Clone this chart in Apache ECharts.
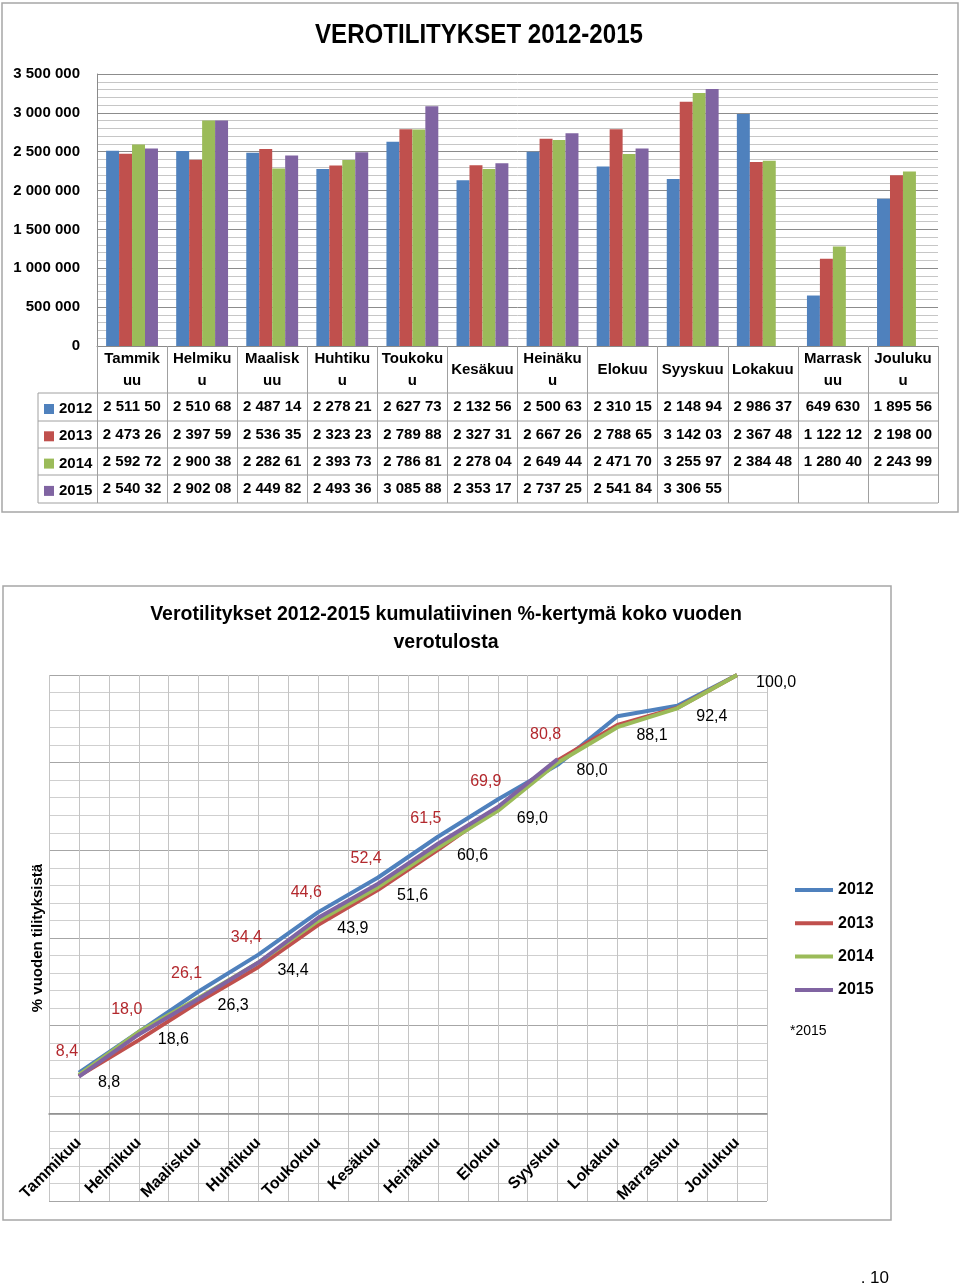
<!DOCTYPE html>
<html><head><meta charset="utf-8">
<script src="https://cdn.jsdelivr.net/npm/echarts@6/dist/echarts.min.js"></script>
<style>
html,body{margin:0;padding:0;background:#fff;width:960px;height:1288px;overflow:hidden;}
#topChart{position:absolute;left:0;top:0;width:960px;height:530px;}
#botChart{position:absolute;left:0;top:530px;width:960px;height:758px;}
</style>
</head><body>
<div id="topChart"></div><div id="botChart"></div>
<script>
// ---------- DATA ----------
const months = ['Tammikuu','Helmikuu','Maaliskuu','Huhtikuu','Toukokuu','Kesäkuu','Heinäkuu','Elokuu','Syyskuu','Lokakuu','Marraskuu','Joulukuu'];
const tableHeaders = ['Tammik\nuu','Helmiku\nu','Maalisk\nuu','Huhtiku\nu','Toukoku\nu','Kesäkuu','Heinäku\nu','Elokuu','Syyskuu','Lokakuu','Marrask\nuu','Jouluku\nu'];
const years = ['2012','2013','2014','2015'];
const v2012 = [2511500, 2510680, 2487140, 2278210, 2627730, 2132560, 2500630, 2310150, 2148940, 2986370, 649630, 1895560];
const v2013 = [2473260, 2397590, 2536350, 2323230, 2789880, 2327310, 2667260, 2788650, 3142030, 2367480, 1122120, 2198000];
const v2014 = [2592720, 2900380, 2282610, 2393730, 2786810, 2278040, 2649440, 2471700, 3255970, 2384480, 1280400, 2243990];
const v2015 = [2540320, 2902080, 2449820, 2493360, 3085880, 2353170, 2737250, 2541840, 3306550];
const cum2012 = [9.3, 18.6, 27.8, 36.2, 45.9, 53.8, 63.1, 71.6, 79.5, 90.6, 93.0, 100.0];
const cum2013 = [8.5, 16.7, 25.4, 33.4, 43.0, 51.0, 60.1, 69.7, 80.5, 88.6, 92.5, 100.0];
const cum2014 = [8.8, 18.6, 26.3, 34.4, 43.9, 51.6, 60.6, 69.0, 80.0, 88.1, 92.4, 100.0];
const cum2015 = [8.4, 18.0, 26.1, 34.4, 44.6, 52.4, 61.5, 69.9, 80.8];
const topTitle = 'VEROTILITYKSET 2012-2015';
const botTitle1 = 'Verotilitykset 2012-2015 kumulatiivinen %-kertymä koko vuoden';
const botTitle2 = 'verotulosta';
const yName = '% vuoden tilityksistä';
const note = '*2015';
const pageNo = '. 10';

// ---------- STYLE ----------
const FONT = '"Liberation Sans", Arial, sans-serif';
const colors = ['#4F81BD', '#C0504D', '#9BBB59', '#8064A2'];
const barValues = [v2012, v2013, v2014, v2015];
const cumValues = [cum2012, cum2013, cum2014, cum2015];
const fmt = v => String(v).replace(/\B(?=(\d{3})+(?!\d))/g, ' ');
const cellText = v => v == null ? '' : fmt(v).slice(0, 8);
const pct = p => Number(p.value).toFixed(1).replace('.', ',');

// ---------- TOP CHART ----------
const axisY = 346;
const rowLines = [393, 421, 448, 475, 503];
const rowCenters = [407, 434.5, 461.5, 489];
const tableLine = {stroke: '#a0a0a0', lineWidth: 1};

const chartTop = echarts.init(document.getElementById('topChart'), null, {renderer: 'canvas'});
chartTop.setOption({
  animation: false,
  color: colors,
  textStyle: {fontFamily: FONT},
  grid: {left: 97, right: 22, top: 74, bottom: 530 - axisY},
  xAxis: [
    {
      type: 'category', data: months, position: 'bottom',
      axisLine: {lineStyle: {color: '#8a8a8a'}},
      axisTick: {show: true, interval: 0, length: 157, lineStyle: {color: '#a0a0a0'}},
      axisLabel: {interval: 0, formatter: (v, i) => tableHeaders[i], fontWeight: 'bold', fontSize: 15,
        color: '#000', lineHeight: 22, verticalAlign: 'middle', margin: 24, fontFamily: FONT},
      splitLine: {show: false}
    },
    ...years.map((y, r) => ({
      type: 'category', data: months, position: 'bottom',
      axisLine: {show: false}, axisTick: {show: false}, splitLine: {show: false},
      axisLabel: {interval: 0, formatter: (v, i) => cellText(barValues[r][i]), fontWeight: 'bold', fontSize: 15,
        color: '#000', verticalAlign: 'middle', margin: rowCenters[r] - axisY, fontFamily: FONT}
    }))
  ],
  yAxis: {
    type: 'value', min: 0, max: 3500000, interval: 500000,
    axisLine: {show: true, lineStyle: {color: '#8a8a8a'}},
    axisTick: {show: false},
    axisLabel: {formatter: v => fmt(v), fontWeight: 'bold', fontSize: 15, color: '#000', margin: 17, fontFamily: FONT},
    splitLine: {lineStyle: {color: '#8c8c8c'}},
    minorTick: {show: false, splitNumber: 5},
    minorSplitLine: {show: true, lineStyle: {color: '#c6c6c6'}}
  },
  legend: {
    orient: 'vertical', left: 44, top: 400, padding: 0, icon: 'rect', itemWidth: 10, itemHeight: 10, itemGap: 9.3,
    selectedMode: false, data: years,
    textStyle: {fontWeight: 'bold', fontSize: 15, color: '#000', lineHeight: 18, fontFamily: FONT}
  },
  series: years.map((y, r) => ({
    name: y, type: 'bar', xAxisIndex: 0, data: barValues[r], barGap: '0%', barCategoryGap: '26%'
  })),
  graphic: [
    {type: 'rect', silent: true, shape: {x: 2, y: 3, width: 956, height: 509}, style: {fill: 'none', stroke: '#a6a6a6', lineWidth: 1.5}},
    {type: 'text', x: 479, y: 35, scaleX: 0.86, style: {text: topTitle, fontSize: 28, fontWeight: 'bold', fontFamily: FONT, fill: '#000', align: 'center', verticalAlign: 'middle'}},
    ...rowLines.map(y => ({type: 'line', silent: true, shape: {x1: 38, y1: y, x2: 938, y2: y}, style: tableLine})),
    {type: 'line', silent: true, shape: {x1: 38, y1: rowLines[0], x2: 38, y2: rowLines[rowLines.length - 1]}, style: tableLine}
  ]
});

// ---------- BOTTOM CHART ----------
const BOT_H = 758, GT = 145, GB = 87;
const Y_MIN = -20, Y_MAX = 100;
const zeroOffset = -(BOT_H - GT - GB) * (0 - Y_MIN) / (Y_MAX - Y_MIN);

const chartBot = echarts.init(document.getElementById('botChart'), null, {renderer: 'canvas'});
chartBot.setOption({
  animation: false,
  color: colors,
  textStyle: {fontFamily: FONT},
  grid: {left: 49, right: 193, top: GT, bottom: GB},
  xAxis: [
    {
      type: 'category', data: months, boundaryGap: true, position: 'bottom', offset: zeroOffset,
      axisLine: {onZero: false, lineStyle: {color: '#8c8c8c', width: 1.5}},
      axisTick: {show: false},
      axisLabel: {interval: 0, rotate: 45, fontWeight: 'bold', fontSize: 16, color: '#000', margin: 27, fontFamily: FONT},
      splitLine: {show: false}
    },
    {
      type: 'value', min: 0, max: 24, interval: 1, position: 'bottom',
      axisLine: {show: false, onZero: false}, axisTick: {show: false}, axisLabel: {show: false},
      splitLine: {show: true, lineStyle: {color: '#c4c4c4'}}
    }
  ],
  yAxis: {
    type: 'value', min: Y_MIN, max: Y_MAX, interval: 20,
    axisLine: {show: false}, axisTick: {show: false}, axisLabel: {show: false},
    splitLine: {lineStyle: {color: '#a6a6a6'}},
    minorTick: {show: false, splitNumber: 5},
    minorSplitLine: {show: true, lineStyle: {color: '#cfcfcf'}},
    name: yName, nameLocation: 'middle', nameRotate: 90, nameGap: 4,
    nameTextStyle: {fontWeight: 'bold', fontSize: 15, color: '#000', fontFamily: FONT}
  },
  legend: {
    orient: 'vertical', left: 795, top: 351, padding: 0, icon: 'rect', itemWidth: 38, itemHeight: 4, itemGap: 15.3,
    selectedMode: false, data: years,
    textStyle: {fontWeight: 'bold', fontSize: 16, color: '#000', lineHeight: 18, fontFamily: FONT}
  },
  series: years.map((y, r) => ({
    name: y, type: 'line', xAxisIndex: 0, yAxisIndex: 0, data: cumValues[r],
    symbol: 'circle', symbolSize: 0.01, showSymbol: true, lineStyle: {width: 4},
    label: r === 2 ? {show: true, position: 'right', distance: 4, offset: [15, 8], fontSize: 16, color: '#000', fontFamily: FONT, formatter: pct}
         : r === 3 ? {show: true, position: 'top', offset: [-12, -12], fontSize: 16, color: '#B3282D', fontFamily: FONT, formatter: pct}
         : {show: false}
  })),
  graphic: [
    {type: 'rect', silent: true, shape: {x: 3, y: 56, width: 888, height: 634}, style: {fill: 'none', stroke: '#a6a6a6', lineWidth: 1.5}},
    {type: 'text', x: 446, y: 85, style: {text: botTitle1, fontSize: 19.5, fontWeight: 'bold', fontFamily: FONT, fill: '#000', align: 'center', verticalAlign: 'middle'}},
    {type: 'text', x: 446, y: 113, style: {text: botTitle2, fontSize: 19.5, fontWeight: 'bold', fontFamily: FONT, fill: '#000', align: 'center', verticalAlign: 'middle'}},
    {type: 'text', x: 790, y: 501, style: {text: note, fontSize: 14, fontFamily: FONT, fill: '#000', align: 'left', verticalAlign: 'middle'}},
    {type: 'text', x: 889, y: 748, style: {text: pageNo, fontSize: 17, fontFamily: FONT, fill: '#000', align: 'right', verticalAlign: 'middle'}}
  ]
});
</script>
</body></html>
